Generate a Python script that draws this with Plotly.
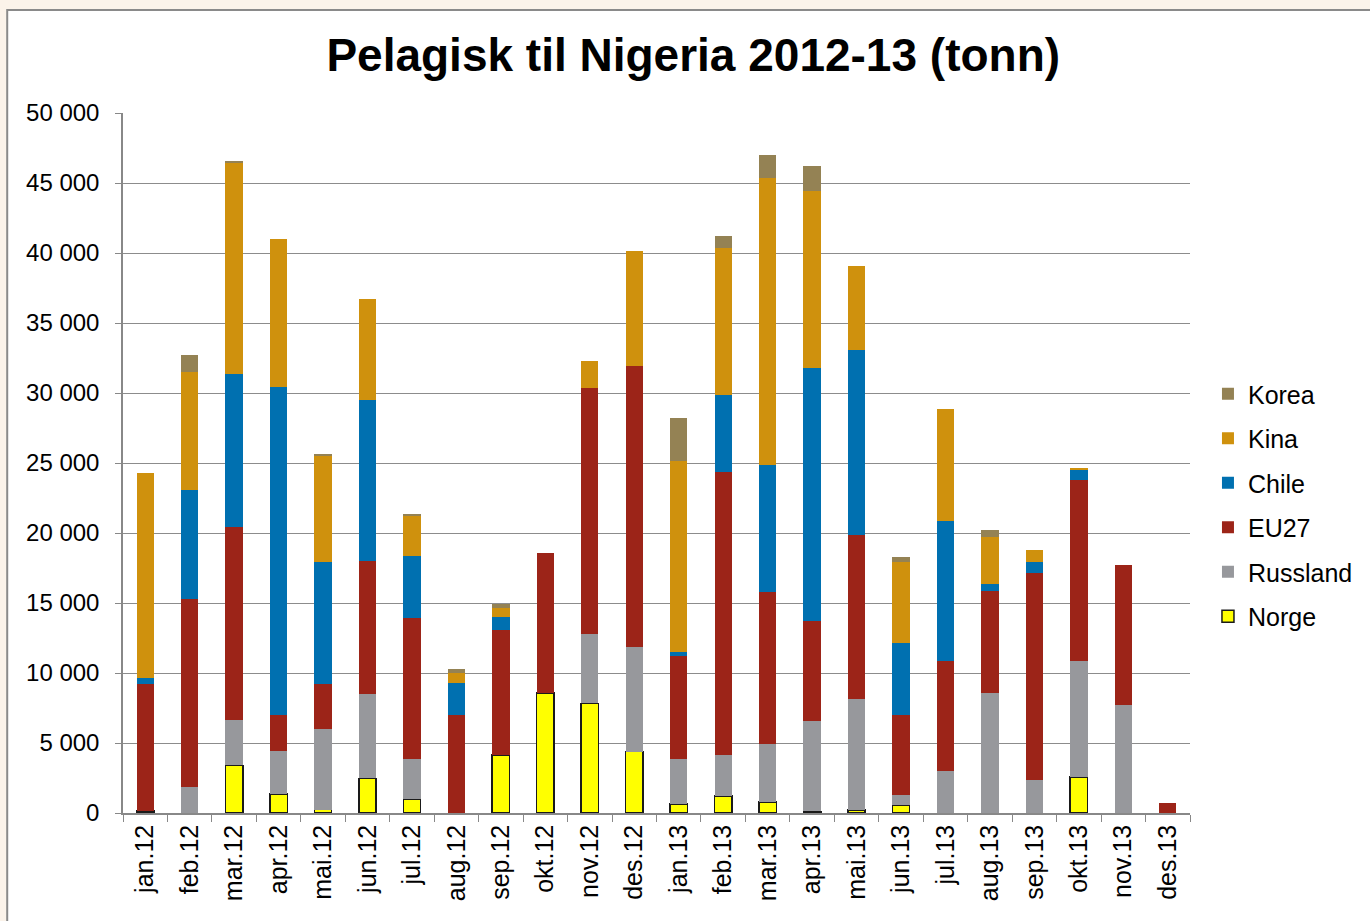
import plotly.graph_objects as go

months = ["jan.12", "feb.12", "mar.12", "apr.12", "mai.12", "jun.12", "jul.12", "aug.12",
          "sep.12", "okt.12", "nov.12", "des.12", "jan.13", "feb.13", "mar.13", "apr.13",
          "mai.13", "jun.13", "jul.13", "aug.13", "sep.13", "okt.13", "nov.13", "des.13"]

norge    = [150, 0, 3400, 1350, 250, 2480, 980, 0, 4130, 8570, 7830, 4380,
            640, 1220, 770, 120, 200, 550, 0, 0, 0, 2570, 0, 0]
russland = [0, 1870, 3240, 3090, 5780, 6030, 2910, 0, 0, 0, 4930, 7490,
            3190, 2940, 4190, 6460, 7970, 770, 3000, 8600, 2330, 8260, 7710, 0]
eu27     = [9060, 13430, 13800, 2570, 3210, 9510, 10030, 7010, 8970, 10030, 17600, 20080,
            7370, 20170, 10860, 7100, 11690, 5690, 7830, 7280, 14810, 12980, 9980, 700]
chile    = [460, 7800, 10930, 23440, 8690, 11450, 4440, 2290, 910, 0, 0, 0,
            280, 5510, 9030, 18110, 13190, 5140, 10040, 460, 790, 670, 0, 0]
kina     = [14630, 8420, 15080, 10550, 7590, 7280, 2820, 680, 620, 0, 1950, 8170,
            13640, 10520, 20500, 12610, 6030, 5780, 7990, 3400, 890, 150, 0, 0]
korea    = [0, 1220, 100, 0, 80, 0, 210, 330, 300, 0, 0, 0,
            3090, 830, 1680, 1840, 0, 340, 0, 490, 0, 0, 0, 0]

yticks = [0, 5000, 10000, 15000, 20000, 25000, 30000, 35000, 40000, 45000, 50000]
ytext = ["0", "5 000", "10 000", "15 000", "20 000", "25 000", "30 000",
         "35 000", "40 000", "45 000", "50 000"]

series = [
    ("Norge", norge, "#FFFF00", dict(color="#1a1a1a", width=1.5)),
    ("Russland", russland, "#97989C", dict(width=0)),
    ("EU27", eu27, "#9C2418", dict(width=0)),
    ("Chile", chile, "#0070B0", dict(width=0)),
    ("Kina", kina, "#CF910D", dict(width=0)),
    ("Korea", korea, "#948254", dict(width=0)),
]

fig = go.Figure()
n = len(series)
for i, (name, vals, color, line) in enumerate(series):
    fig.add_trace(go.Bar(x=months, y=vals, name=name, legendgroup=name,
                         legendrank=n - i,
                         marker=dict(color=color, line=line)))

FONT = "Liberation Sans, Arial, sans-serif"

W, H = 1370, 921
L, T = 123, 113
PW, PH = 1069, 700

fig.update_layout(
    width=W, height=H,
    barmode="stack", bargap=0.61,
    paper_bgcolor="#fbf3ea", plot_bgcolor="white",
    margin=dict(l=L, r=W - L - PW, t=T, b=H - T - PH),
    font=dict(family=FONT, size=24, color="black"),
    title=dict(text="<b>Pelagisk til Nigeria 2012-13 (tonn)</b>",
               x=0.506, xanchor="center", y=0.940, yanchor="middle",
               font=dict(family=FONT, size=46, color="black")),
    legend=dict(x=(1210 - L) / PW, xanchor="left", y=0.44, yanchor="middle",
                traceorder="grouped", tracegroupgap=9,
                font=dict(family=FONT, size=25, color="black"),
                itemwidth=30, bgcolor="rgba(0,0,0,0)"),
    showlegend=True,
)

fig.update_xaxes(type="category", categoryorder="array", categoryarray=months,
                 tickangle=-90, tickson="boundaries", ticks="outside", ticklen=7,
                 tickcolor="#888888", showline=True, linecolor="#888888", linewidth=1.5,
                 showgrid=False, tickfont=dict(family=FONT, size=25))
fig.update_yaxes(range=[0, 50000], tickvals=yticks, ticktext=ytext,
                 ticks="outside", ticklen=6, tickcolor="#888888",
                 showline=True, linecolor="#888888", linewidth=1.5,
                 showgrid=True, gridcolor="#8c8c8c", gridwidth=1,
                 zeroline=False, ticklabelstandoff=11,
                 tickfont=dict(family=FONT, size=24))

# chart area frame
fig.add_shape(type="rect", xref="paper", yref="paper",
              x0=(7 - L) / PW, x1=(W + 20 - L) / PW,
              y0=-(H + 20 - T - PH) / PH, y1=(T - 10 + PH) / PH,
              line=dict(color="#8a8a8a", width=2), fillcolor="white", layer="below")

fig.write_html("out.html",
               config={"displayModeBar": False},
               post_script="document.body.style.margin='0';document.body.style.overflow='hidden';")
